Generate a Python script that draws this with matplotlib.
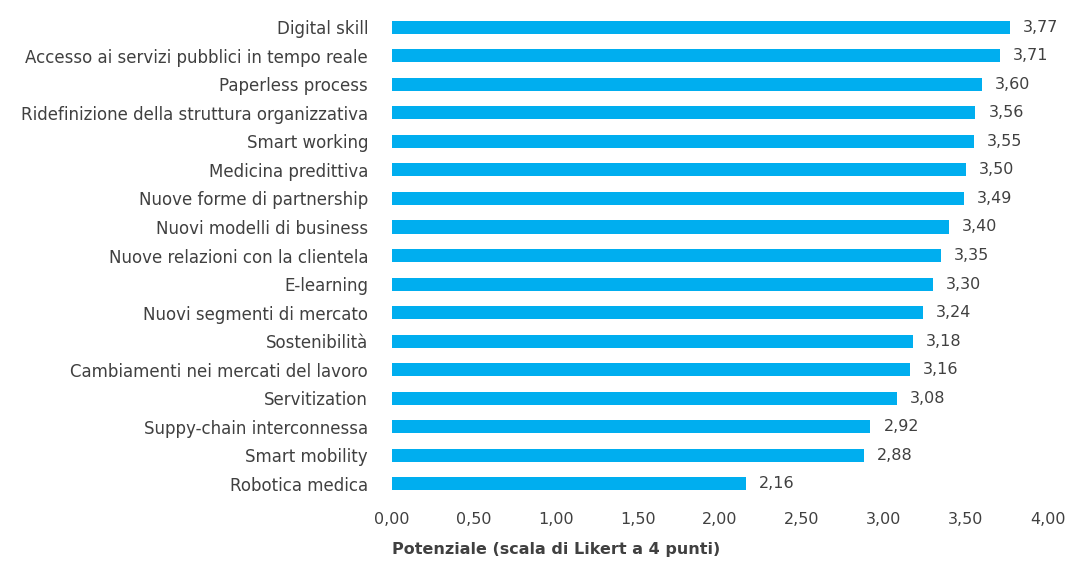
import matplotlib
matplotlib.use("Agg")
import matplotlib.pyplot as plt
import numpy as np

categories = [
    "Digital skill",
    "Accesso ai servizi pubblici in tempo reale",
    "Paperless process",
    "Ridefinizione della struttura organizzativa",
    "Smart working",
    "Medicina predittiva",
    "Nuove forme di partnership",
    "Nuovi modelli di business",
    "Nuove relazioni con la clientela",
    "E-learning",
    "Nuovi segmenti di mercato",
    "Sostenibilità",
    "Cambiamenti nei mercati del lavoro",
    "Servitization",
    "Suppy-chain interconnessa",
    "Smart mobility",
    "Robotica medica",
]
values = [3.77, 3.71, 3.60, 3.56, 3.55, 3.50, 3.49, 3.40, 3.35, 3.30,
          3.24, 3.18, 3.16, 3.08, 2.92, 2.88, 2.16]
xticks = [0, 0.5, 1, 1.5, 2, 2.5, 3, 3.5, 4]

text_col = "#404040"
bar_col = "#00AEEF"

plt.rcParams['font.family'] = ['DejaVu Sans']

fig = plt.figure(figsize=(10.7, 5.61), dpi=100)
ax = fig.add_axes([0.366, 0.112, 0.613, 0.865])

y = np.arange(len(categories))
ax.barh(y, values, height=0.46, color=bar_col)
for yi, v in zip(y, values):
    ax.text(v + 0.08, yi, f"{v:.2f}".replace(".", ","), va="center", ha="left",
            fontsize=11.5, color=text_col)

ax.set_ylim(len(categories) - 0.5, -0.5)
ax.set_xlim(0, 4)
ax.set_yticks(y)
ax.set_yticklabels(categories, fontsize=12, color=text_col)
ax.set_xticks(xticks)
ax.set_xticklabels([f"{t:.2f}".replace(".", ",") for t in xticks], fontsize=11.5, color=text_col)
ax.tick_params(axis="both", length=0)
ax.tick_params(axis="y", pad=17)
ax.tick_params(axis="x", pad=10)
for s in ax.spines.values():
    s.set_visible(False)

ax.set_xlabel("Potenziale (scala di Likert a 4 punti)", loc="left", fontsize=11.5,
              fontweight="bold", color=text_col, labelpad=11)

fig.savefig("out.png", dpi=100)
